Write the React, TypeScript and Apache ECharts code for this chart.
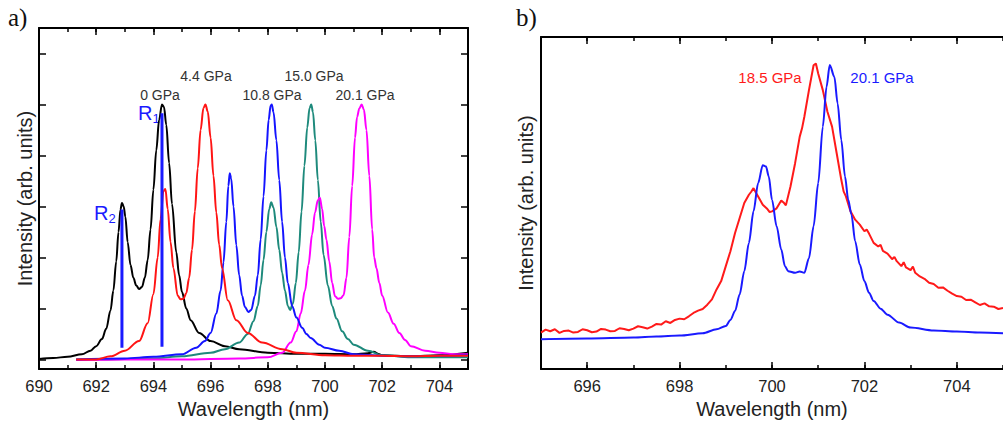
import React, { useEffect, useRef } from "react";
import * as echarts from "echarts";

// ---- Panel a: ruby fluorescence spectra (normalized, arb. units) ----
const black0GPa: [number, number][] = [
  [690, 0.01], [690.5, 0.03], [691, 0.05], [691.5, 0.1], [691.8, 0.17], [692, 0.26], [692.2, 0.4],
  [692.35, 0.6], [692.5, 0.96], [692.6, 1.35], [692.7, 1.92], [692.78, 2.5], [692.85, 2.94],
  [692.9, 3.07], [692.96, 3.0], [693.02, 2.8], [693.1, 2.3], [693.2, 1.85], [693.3, 1.6],
  [693.4, 1.45], [693.5, 1.38], [693.6, 1.42], [693.7, 1.6], [693.8, 1.95], [693.9, 2.55],
  [694.0, 3.33], [694.1, 4.1], [694.2, 4.7], [694.3, 5.0], [694.37, 4.95], [694.45, 4.6],
  [694.55, 3.85], [694.65, 3.05], [694.8, 2.1], [694.9, 1.65], [695.0, 1.32], [695.15, 1.0],
  [695.3, 0.77], [695.6, 0.52], [696, 0.36], [696.5, 0.26], [697, 0.2], [698, 0.13], [699, 0.11],
  [700, 0.11], [701, 0.1], [701.5, 0.12], [701.7, 0.15], [701.9, 0.1], [702, 0.08],
  [703, 0.06], [704, 0.08], [705, 0.13],
];
const red4_4GPa: [number, number][] = [
  [691.3, 0.0], [692, 0.0], [692.5, 0.06], [693, 0.17], [693.5, 0.36], [693.8, 0.71], [694.0, 1.28],
  [694.15, 2.0], [694.25, 2.75], [694.35, 3.3], [694.42, 3.34], [694.5, 2.95], [694.6, 2.3],
  [694.7, 1.79], [694.85, 1.25], [694.95, 1.18], [695.05, 1.19], [695.15, 1.3], [695.25, 1.6],
  [695.35, 2.15], [695.45, 2.9], [695.55, 3.75], [695.65, 4.5], [695.75, 4.93], [695.82, 5.0],
  [695.9, 4.86], [696.0, 4.35], [696.1, 3.6], [696.2, 2.88], [696.3, 2.25], [696.4, 1.79],
  [696.6, 1.16], [696.9, 0.77], [697.3, 0.52], [697.8, 0.33], [698.5, 0.2], [699, 0.13],
  [700, 0.08], [701, 0.07], [702, 0.07], [703, 0.06], [704, 0.07], [705, 0.07],
];
const blue10_8GPa: [number, number][] = [
  [691.3, 0.0], [693, 0.02], [694, 0.05], [695, 0.1], [695.5, 0.23], [695.8, 0.36], [696.0, 0.52],
  [696.2, 0.9], [696.35, 1.35], [696.45, 1.9], [696.55, 2.7], [696.62, 3.4], [696.67, 3.65],
  [696.72, 3.55], [696.8, 3.0], [696.9, 2.24], [697.0, 1.65], [697.1, 1.25], [697.2, 1.03],
  [697.32, 0.93], [697.42, 0.97], [697.55, 1.25], [697.65, 1.65], [697.75, 2.35], [697.85, 3.2],
  [697.95, 4.1], [698.03, 4.7], [698.1, 4.98], [698.14, 5.0], [698.2, 4.85], [698.3, 4.3],
  [698.4, 3.52], [698.5, 2.7], [698.6, 2.0], [698.7, 1.5], [698.85, 1.05], [699.0, 0.82],
  [699.2, 0.62], [699.35, 0.5], [699.5, 0.42], [699.8, 0.29], [700, 0.23], [700.5, 0.17],
  [701, 0.1], [702, 0.07], [703, 0.06], [704, 0.07], [705, 0.08],
];
const teal15_0GPa: [number, number][] = [
  [691.3, 0.0], [692, 0.0], [694, 0.02], [695, 0.06], [696, 0.13], [696.5, 0.2], [697, 0.33],
  [697.3, 0.5], [697.5, 0.75], [697.65, 1.05], [697.75, 1.45], [697.85, 1.95], [697.95, 2.5],
  [698.05, 2.95], [698.12, 3.08], [698.2, 2.98], [698.3, 2.6], [698.4, 2.15], [698.5, 1.7],
  [698.6, 1.35], [698.7, 1.05], [698.78, 0.97], [698.88, 1.1], [698.98, 1.5], [699.08, 2.1],
  [699.18, 2.9], [699.28, 3.8], [699.38, 4.55], [699.46, 4.93], [699.52, 5.0], [699.58, 4.85],
  [699.66, 4.3], [699.75, 3.52], [699.85, 2.7], [699.95, 2.05], [700.1, 1.45], [700.25, 1.05],
  [700.4, 0.8], [700.6, 0.55], [700.8, 0.4], [701.0, 0.29], [701.5, 0.17], [702, 0.08],
  [703, 0.04], [704, 0.04], [705, 0.04],
];
const magenta20_1GPa: [number, number][] = [
  [691.3, -0.01], [693, 0.0], [695, 0.0], [697, 0.02], [698, 0.04], [698.5, 0.13], [698.8, 0.33],
  [699.0, 0.55], [699.15, 0.9], [699.3, 1.35], [699.42, 1.85], [699.55, 2.45], [699.65, 2.88],
  [699.75, 3.12], [699.82, 3.17], [699.9, 2.95], [699.97, 2.62], [700.05, 2.35], [700.15, 1.92],
  [700.25, 1.5], [700.35, 1.24], [700.45, 1.19], [700.55, 1.2], [700.65, 1.26], [700.75, 1.6],
  [700.85, 2.4], [700.95, 3.4], [701.05, 4.35], [701.12, 4.75], [701.2, 4.92], [701.28, 5.0],
  [701.36, 4.9], [701.45, 4.5], [701.55, 3.6], [701.65, 2.55], [701.72, 2.0], [701.8, 1.79],
  [701.9, 1.5], [702.0, 1.25], [702.2, 0.92], [702.4, 0.7], [702.6, 0.52], [702.8, 0.38],
  [703, 0.26], [703.5, 0.17], [704, 0.13], [704.5, 0.1], [705, 0.1],
];
const r2Line: [number, number][] = [[692.9, 0.23], [692.9, 2.94]];
const r1Line: [number, number][] = [[694.3, 0.25], [694.3, 4.83]];

// ---- Panel b ----
const red18_5GPa: [number, number][] = [
  [695.0, 11], [695.1, 11.9], [695.2, 11.4], [695.3, 12.0], [695.4, 10.9], [695.5, 11.5],
  [695.6, 11.6], [695.7, 11.0], [695.8, 11.2], [695.9, 12.0], [696.0, 11.7], [696.1, 11.1],
  [696.2, 11.3], [696.3, 12.1], [696.4, 11.9], [696.5, 11.4], [696.6, 11.5], [696.7, 12.3],
  [696.8, 12.1], [696.9, 11.7], [697.0, 12.2], [697.1, 12.9], [697.2, 12.6], [697.3, 12.2],
  [697.4, 12.8], [697.5, 13.6], [697.6, 13.4], [697.7, 14.4], [697.8, 13.9], [697.9, 14.8],
  [698.0, 15.2], [698.1, 15.0], [698.2, 15.9], [698.3, 16.9], [698.4, 17.6], [698.5, 18.1],
  [698.6, 19.4], [698.7, 21.0], [698.8, 24.0], [698.9, 26.5], [699.0, 31.0], [699.1, 35.5],
  [699.2, 41.0], [699.3, 45.5], [699.4, 50.0], [699.5, 52.5], [699.55, 53.4], [699.6, 54.5],
  [699.65, 53.2], [699.7, 52], [699.8, 49.5], [699.9, 48.2], [699.95, 47.3], [700.0, 47.5],
  [700.1, 48.4], [700.2, 50.8], [700.25, 50.2], [700.3, 49.3], [700.4, 55], [700.5, 62],
  [700.6, 70], [700.65, 72.5], [700.7, 76], [700.8, 84], [700.9, 91.5], [700.95, 92],
  [701.0, 89], [701.1, 84], [701.2, 77.5], [701.3, 73], [701.4, 65], [701.5, 57], [701.55, 53.5],
  [701.6, 52], [701.7, 47.5], [701.8, 45], [701.9, 43.5], [702.0, 41.5], [702.05, 42.0],
  [702.1, 40.8], [702.2, 38.0], [702.3, 36.9], [702.35, 37.4], [702.4, 35.6], [702.5, 34.8],
  [702.6, 33.1], [702.65, 33.8], [702.7, 32.5], [702.8, 31.0], [702.85, 32.2], [702.9, 30.6],
  [703.0, 29.8], [703.05, 30.9], [703.1, 29.0], [703.2, 27.9], [703.3, 27.2], [703.4, 26.0],
  [703.5, 25.6], [703.6, 24.5], [703.7, 24.6], [703.8, 23.6], [703.9, 22.7], [704.0, 22.0],
  [704.1, 21.8], [704.2, 20.8], [704.3, 20.9], [704.4, 20.1], [704.5, 19.3], [704.6, 19.8],
  [704.7, 18.9], [704.8, 18.8], [704.9, 18.1], [705.0, 18.4],
];
const blue20_1GPa: [number, number][] = [
  [695, 9], [696, 9.2], [697, 9.5], [697.5, 9.8], [698, 10.1], [698.5, 10.8], [698.8, 12],
  [699, 13], [699.1, 14.8], [699.2, 17.5], [699.3, 22.5], [699.4, 29.5], [699.5, 38], [699.6, 47.5],
  [699.7, 56], [699.8, 61.4], [699.87, 61], [699.93, 58], [700.0, 51], [700.1, 43], [700.2, 36],
  [700.28, 31], [700.35, 29.5], [700.5, 29], [700.6, 29.4], [700.7, 29], [700.8, 33.4],
  [700.9, 43], [701.0, 56], [701.1, 73], [701.18, 85], [701.25, 91.6], [701.35, 88], [701.42, 80],
  [701.5, 69], [701.58, 58], [701.65, 51], [701.72, 46.5], [701.8, 38.5], [701.9, 31.5],
  [702.0, 26.5], [702.1, 23.0], [702.2, 20.5], [702.35, 18.2], [702.5, 16.4], [702.75, 14.0],
  [703.0, 12.5], [703.5, 11.6], [704, 11.3], [704.5, 11.0], [705, 10.8],
];

const aMajor = [690, 692, 694, 696, 698, 700, 702, 704];
const bMajor = [696, 698, 700, 702, 704];
const aYTicks = [0, 1, 2, 3, 4, 5, 6];

const FONT = "'Liberation Sans', Arial, sans-serif";
const AX = { color: "#000", width: 2 };

function majorX(grid: number, pos: string, min: number, max: number, vals: number[], labels: boolean, name?: string, gap?: number) {
  return {
    type: "value", gridIndex: grid, position: pos, min, max,
    axisLine: { show: true, onZero: false, lineStyle: AX },
    axisTick: { show: true, inside: true, length: 7, customValues: vals, lineStyle: { color: "#000", width: 1.5 } },
    axisLabel: { show: labels, customValues: vals, fontSize: 16.5, color: "#222", fontFamily: FONT, margin: 8 },
    splitLine: { show: false },
    name: name || "", nameLocation: "middle", nameGap: gap || 0,
    nameTextStyle: { fontSize: 20, color: "#222", fontFamily: FONT },
  };
}
function minorX(grid: number, pos: string, min: number, max: number) {
  return {
    type: "value", gridIndex: grid, position: pos, min, max, interval: 1,
    axisLine: { show: false, onZero: false },
    axisTick: { show: true, inside: true, length: 4, lineStyle: { color: "#000", width: 1.5 } },
    axisLabel: { show: false },
    splitLine: { show: false },
  };
}

export default function App() {
  const ref = useRef<HTMLDivElement>(null);
  useEffect(() => {
    if (!ref.current) return;
    const chart = echarts.init(ref.current, undefined, { renderer: "svg" });
    const line = (data: [number, number][], color: string, xi: number, yi: number, w = 2, smooth = 0.35) => ({
      type: "line", data, xAxisIndex: xi, yAxisIndex: yi, showSymbol: false, symbol: "none",
      smooth, smoothMonotone: "x",
      lineStyle: { color, width: w }, itemStyle: { color }, silent: true,
    });
    const lbl = (text: string, x: number, y: number, color: string, size: number) => ({
      type: "text", x, y,
      style: { text, fill: color, fontSize: size, fontFamily: FONT, align: "center", verticalAlign: "middle" },
    });
    const rLabel = (sub: string, x: number, y: number) => ({
      type: "text", x, y,
      style: {
        text: "{r|R}{s|" + sub + "}", fontFamily: FONT,
        rich: {
          r: { fontSize: 20, fill: "#1a1aff", color: "#1a1aff", fontFamily: FONT },
          s: { fontSize: 13, fill: "#1a1aff", color: "#1a1aff", fontFamily: FONT, padding: [11, 0, 0, 0] },
        },
      },
    });
    chart.setOption({
      animation: false,
      backgroundColor: "#fff",
      grid: [
        { left: 39, top: 28, width: 429, height: 349 },
        { left: 541, top: 37, width: 466, height: 335 },
      ],
      xAxis: [
        majorX(0, "bottom", 690, 705, aMajor, true, "Wavelength (nm)", 25),
        minorX(0, "bottom", 690, 705),
        majorX(0, "top", 690, 705, aMajor, false),
        minorX(0, "top", 690, 705),
        majorX(1, "bottom", 695, 705, bMajor, true, "Wavelength (nm)", 23),
        minorX(1, "bottom", 695, 705),
        majorX(1, "top", 695, 705, bMajor, false),
        minorX(1, "top", 695, 705),
      ],
      yAxis: [
        {
          type: "value", gridIndex: 0, position: "left", min: -0.19, max: 6.5,
          axisLine: { show: true, onZero: false, lineStyle: AX },
          axisTick: { show: true, inside: true, length: 7, customValues: aYTicks, lineStyle: { color: "#000", width: 1.5 } },
          axisLabel: { show: false, customValues: aYTicks },
          splitLine: { show: false },
          name: "Intensity (arb. units)", nameLocation: "middle", nameGap: 4,
          nameTextStyle: { fontSize: 20, color: "#222", fontFamily: FONT },
        },
        {
          type: "value", gridIndex: 0, position: "right", min: -0.19, max: 6.5,
          axisLine: { show: true, onZero: false, lineStyle: AX },
          axisTick: { show: true, inside: true, length: 7, customValues: aYTicks, lineStyle: { color: "#000", width: 1.5 } },
          axisLabel: { show: false, customValues: aYTicks },
          splitLine: { show: false },
        },
        {
          type: "value", gridIndex: 1, position: "left", min: 0, max: 100,
          axisLine: { show: true, onZero: false, lineStyle: AX },
          axisTick: { show: false },
          axisLabel: { show: false },
          splitLine: { show: false },
          name: "Intensity (arb. units)", nameLocation: "middle", nameGap: 5,
          nameTextStyle: { fontSize: 20, color: "#222", fontFamily: FONT },
        },
      ],
      series: [
        line(black0GPa, "#000000", 0, 0),
        line(teal15_0GPa, "#1e8a7c", 0, 0),
        line(magenta20_1GPa, "#ff00ff", 0, 0),
        line(blue10_8GPa, "#1414ff", 0, 0),
        line(red4_4GPa, "#ff1414", 0, 0),
        line(r2Line, "#1a1aff", 0, 0, 3, 0),
        line(r1Line, "#1a1aff", 0, 0, 3, 0),
        line(red18_5GPa, "#ff1a1a", 4, 2, 2, 0),
        line(blue20_1GPa, "#1a1aff", 4, 2, 2, 0.3),
      ],
      graphic: [
        { type: "text", x: 8, y: 5, style: { text: "a)", fill: "#111", fontSize: 25, fontFamily: "'Liberation Serif', 'Times New Roman', serif" } },
        { type: "text", x: 516, y: 5, style: { text: "b)", fill: "#111", fontSize: 25, fontFamily: "'Liberation Serif', 'Times New Roman', serif" } },
        lbl("0 GPa", 160, 95, "#333", 14),
        lbl("4.4 GPa", 206, 76, "#333", 14),
        lbl("10.8 GPa", 272, 95, "#333", 14),
        lbl("15.0 GPa", 314, 76, "#333", 14),
        lbl("20.1 GPa", 365, 95, "#333", 14),
        lbl("18.5 GPa", 770, 77, "#ff1a1a", 15),
        lbl("20.1 GPa", 882, 77, "#1a1aff", 15),
        rLabel("1", 138, 101),
        rLabel("2", 94, 201),
      ],
    });
    return () => chart.dispose();
  }, []);
  return <div ref={ref} style={{ position: "fixed", left: 0, top: 0, width: 1003, height: 424 }} />;
}
